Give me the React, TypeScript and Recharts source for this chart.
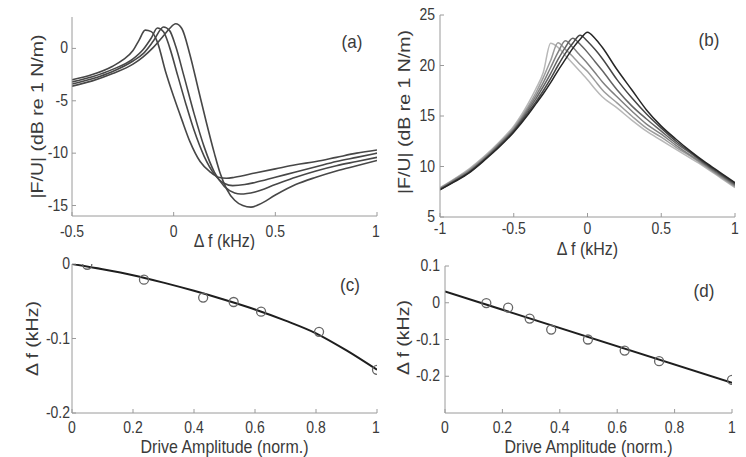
import React from 'react';
import { ComposedChart, Line, XAxis, YAxis, Label } from 'recharts';

const FONT = '"Liberation Sans", Arial, sans-serif';
const BOX = '#9a9a9a';
const INK = '#3a3a3a';

// (a) |F/U| vs detuning, four drive levels (kHz, dB)
const a1x = [-0.5, -0.4, -0.3, -0.25, -0.2, -0.17, -0.14, -0.11, -0.08, -0.04, 0, 0.04, 0.08, 0.13, 0.18, 0.22, 0.26, 0.3, 0.4, 0.5, 0.6, 0.7, 0.8, 0.9, 1];
const a1y = [-3.0, -2.5, -1.7, -1.1, -0.2, 0.8, 1.75, 1.6, 0.6, -2.2, -4.6, -6.8, -8.9, -10.8, -11.8, -12.3, -12.4, -12.3, -11.9, -11.5, -11.1, -10.8, -10.4, -10.0, -9.7];
const a2x = [-0.5, -0.4, -0.3, -0.2, -0.15, -0.11, -0.08, -0.05, -0.02, 0.02, 0.06, 0.1, 0.15, 0.2, 0.25, 0.29, 0.35, 0.4, 0.5, 0.6, 0.7, 0.8, 0.9, 1];
const a2y = [-3.2, -2.7, -2.0, -1.0, -0.1, 1.0, 1.95, 1.6, 0.1, -2.6, -5.3, -7.8, -10.3, -12.0, -12.9, -13.1, -13.0, -12.8, -12.3, -11.8, -11.3, -10.8, -10.4, -10.0];
const a3x = [-0.5, -0.4, -0.3, -0.2, -0.15, -0.1, -0.05, -0.02, 0.01, 0.05, 0.1, 0.15, 0.2, 0.25, 0.3, 0.33, 0.4, 0.5, 0.6, 0.7, 0.8, 0.9, 1];
const a3y = [-3.4, -2.9, -2.2, -1.2, -0.5, 0.7, 2.05, 1.7, 0.2, -2.6, -6.2, -9.4, -11.8, -13.2, -13.8, -13.9, -13.7, -13.0, -12.3, -11.7, -11.2, -10.8, -10.4];
const a4x = [-0.5, -0.4, -0.3, -0.2, -0.15, -0.1, -0.05, -0.02, 0.01, 0.04, 0.08, 0.12, 0.16, 0.2, 0.23, 0.26, 0.3, 0.34, 0.38, 0.42, 0.5, 0.6, 0.7, 0.8, 0.9, 1];
const a4y = [-3.6, -3.1, -2.4, -1.5, -0.8, 0.1, 1.2, 1.9, 2.35, 1.9, -0.6, -3.8, -7.0, -10.0, -12.0, -13.4, -14.5, -15.0, -15.15, -14.9, -14.0, -13.0, -12.3, -11.7, -11.2, -10.7];

// (b) six drive levels on a shared detuning grid
const bX = [-1, -0.9, -0.8, -0.7, -0.6, -0.5, -0.4, -0.35, -0.3, -0.25, -0.2, -0.15, -0.1, -0.05, 0, 0.05, 0.1, 0.2, 0.3, 0.4, 0.5, 0.6, 0.7, 0.8, 0.9, 1];
const b1 = [7.9, 8.8, 9.8, 11.0, 12.4, 14.0, 16.3, 17.7, 19.3, 22.2, 21.8, 21.0, 20.2, 19.4, 18.6, 17.7, 16.9, 15.8, 14.6, 13.5, 12.6, 11.7, 10.8, 9.9, 8.9, 7.9];
const b2 = [7.85, 8.75, 9.7, 10.9, 12.3, 13.85, 16.0, 17.3, 18.8, 20.5, 22.25, 21.6, 20.9, 20.1, 19.4, 18.5, 17.6, 16.3, 15.0, 13.8, 12.9, 11.9, 11.0, 10.0, 9.0, 8.0];
const b3 = [7.8, 8.7, 9.6, 10.8, 12.2, 13.7, 15.8, 17.0, 18.3, 19.8, 21.3, 22.45, 21.8, 21.0, 20.2, 19.3, 18.4, 16.9, 15.5, 14.2, 13.2, 12.1, 11.1, 10.1, 9.1, 8.1];
const b4 = [7.75, 8.6, 9.5, 10.7, 12.1, 13.6, 15.6, 16.7, 17.9, 19.2, 20.6, 21.8, 22.7, 22.1, 21.3, 20.4, 19.5, 17.6, 16.0, 14.7, 13.5, 12.3, 11.3, 10.2, 9.2, 8.2];
const b5 = [7.7, 8.55, 9.45, 10.65, 12.0, 13.5, 15.4, 16.4, 17.5, 18.7, 20.0, 21.2, 22.2, 23.0, 22.4, 21.6, 20.7, 18.6, 16.8, 15.2, 13.8, 12.5, 11.4, 10.3, 9.3, 8.3];
const b6 = [7.7, 8.5, 9.4, 10.6, 11.9, 13.4, 15.2, 16.2, 17.2, 18.3, 19.5, 20.6, 21.7, 22.6, 23.3, 22.7, 21.8, 19.6, 17.6, 15.6, 14.0, 12.7, 11.5, 10.4, 9.4, 8.4];
const bShades = ['#b8b8b8', '#9c9c9c', '#808080', '#646464', '#464646', '#262626'];

// (c) peak shift vs drive amplitude, measured + fit
const cAmp = [0.05, 0.236, 0.43, 0.53, 0.62, 0.81, 1.0];
const cShift = [-0.001, -0.021, -0.045, -0.051, -0.064, -0.091, -0.142];
const cFitX = [0, 0.1, 0.2, 0.3, 0.4, 0.5, 0.6, 0.7, 0.8, 0.9, 1];
const cFitY = [0, -0.007, -0.015, -0.025, -0.036, -0.048, -0.061, -0.076, -0.093, -0.116, -0.142];

// (d) second resonance shift + linear fit
const dAmp = [0.144, 0.22, 0.295, 0.37, 0.498, 0.626, 0.746, 1.0];
const dShift = [-0.001, -0.013, -0.043, -0.073, -0.1, -0.13, -0.159, -0.21];
const dFitX = [0, 1];
const dFitY = [0.031, -0.218];

const pts = (xs: number[], ys: number[]) => xs.map((x, i) => ({ x, y: ys[i] }));
const bData = bX.map((x, i) => ({ x, b1: b1[i], b2: b2[i], b3: b3[i], b4: b4[i], b5: b5[i], b6: b6[i] }));

const fmt = (v: number) => String(Math.round(v * 100) / 100);

const XTick = (p: any) => (
  <g transform={`translate(${p.x},${p.y})`}>
    <text transform="scale(1,1.12)" y={10.5} textAnchor="middle" fill={INK} fontSize={14} fontFamily={FONT}>
      {fmt(p.payload.value)}
    </text>
  </g>
);

const YTick = (p: any) => (
  <g transform={`translate(${p.x},${p.y})`}>
    <text transform="scale(1,1.12)" y={4.5} textAnchor="end" fill={INK} fontSize={14} fontFamily={FONT}>
      {fmt(p.payload.value)}
    </text>
  </g>
);

const xTitle = (text: string, dy: number) => (p: any) => {
  const vb = p.viewBox;
  return (
    <text transform={`translate(${vb.x + vb.width / 2},${vb.y + dy}) scale(1,1.15)`} textAnchor="middle" fill={INK} fontSize={16} fontFamily={FONT}>
      {text}
    </text>
  );
};

const yTitle = (text: string, dx: number, dy: number) => (p: any) => {
  const vb = p.viewBox;
  return (
    <text transform={`translate(${vb.x + dx},${vb.y + vb.height / 2 + dy}) rotate(-90) scale(1.22,1)`} textAnchor="middle" fill={INK} fontSize={16} fontFamily={FONT}>
      {text}
    </text>
  );
};

function Panel(props: any) {
  const { left, top, w, h, margin, yW, xH, xd, xt, yd, yt, xM, yM, xLab, xDy, yLab, yDx, yDy, data, children } = props;
  return (
    <div style={{ position: 'absolute', left, top, width: w, height: h }}>
      <ComposedChart width={w} height={h} data={data} margin={margin}>
        <XAxis type="number" dataKey="x" domain={xd} ticks={xt} height={xH} stroke={BOX}
          tickSize={-4} tickMargin={xM} tick={<XTick />} allowDataOverflow>
          <Label content={xTitle(xLab, xDy)} />
        </XAxis>
        <YAxis type="number" domain={yd} ticks={yt} width={yW} stroke={BOX}
          tickSize={-4} tickMargin={yM} tick={<YTick />} allowDataOverflow>
          <Label content={yTitle(yLab, yDx, yDy)} />
        </YAxis>
        <XAxis xAxisId="top" orientation="top" type="number" domain={xd} ticks={xt} height={0}
          stroke={BOX} tickSize={-4} tick={false} allowDataOverflow />
        <YAxis yAxisId="right" orientation="right" type="number" domain={yd} ticks={yt} width={0}
          stroke={BOX} tickSize={-4} tick={false} allowDataOverflow />
        {children}
      </ComposedChart>
    </div>
  );
}

export default function App() {
  const aCurves = [pts(a1x, a1y), pts(a2x, a2y), pts(a3x, a3y), pts(a4x, a4y)];
  const bKeys = ['b1', 'b2', 'b3', 'b4', 'b5', 'b6'];
  const letters = [
    { t: '(a)', x: 352, y: 48 },
    { t: '(b)', x: 709, y: 46 },
    { t: '(c)', x: 350, y: 291 },
    { t: '(d)', x: 704, y: 297 },
  ];
  return (
    <div style={{ position: 'absolute', left: 0, top: 0, width: 746, height: 457, background: '#fff' }}>
      <Panel left={0} top={0} w={380} h={250} margin={{ top: 17, right: 3, bottom: 0, left: 0 }}
        yW={72} xH={34} xd={[-0.5, 1]} xt={[-0.5, 0, 0.5, 1]} yd={[-16, 3]} yt={[-15, -10, -5, 0]}
        xM={13} yM={8} xLab="Δ f (kHz)" xDy={31} yLab="|F/U| (dB re 1 N/m)" yDx={42.5} yDy={0}>
        {aCurves.map((c, i) => (
          <Line key={i} data={c} dataKey="y" type="monotone" stroke="#474747" strokeWidth={1.6}
            dot={false} isAnimationActive={false} />
        ))}
      </Panel>

      <Panel left={373} top={0} w={373} h={260} margin={{ top: 15, right: 11, bottom: 0, left: 0 }}
        yW={67} xH={43} xd={[-1, 1]} xt={[-1, -0.5, 0, 0.5, 1]} yd={[5, 25]} yt={[5, 10, 15, 20, 25]}
        xM={9} yM={9} xLab="Δ f (kHz)" xDy={38} yLab="|F/U| (dB re 1 N/m)" yDx={37} yDy={-4} data={bData}>
        {bKeys.map((k, i) => (
          <Line key={k} dataKey={k} type="monotone" stroke={bShades[i]} strokeWidth={1.5}
            dot={false} isAnimationActive={false} />
        ))}
      </Panel>

      <Panel left={0} top={250} w={380} h={207} margin={{ top: 14, right: 3, bottom: 0, left: 0 }}
        yW={72} xH={44} xd={[0, 1]} xt={[0, 0.2, 0.4, 0.6, 0.8, 1]} yd={[-0.2, 0]} yt={[-0.2, -0.1, 0]}
        xM={12} yM={6} xLab="Drive Amplitude (norm.)" xDy={40} yLab="Δ f (kHz)" yDx={37.5} yDy={0}>
        <Line data={pts(cFitX, cFitY)} dataKey="y" type="monotone" stroke="#1e1e1e" strokeWidth={2}
          dot={false} isAnimationActive={false} />
        <Line data={pts(cAmp, cShift)} dataKey="y" stroke="none"
          dot={{ r: 4.5, stroke: '#666', strokeWidth: 1.3, fill: 'none' }} isAnimationActive={false} />
      </Panel>

      <Panel left={373} top={250} w={373} h={207} margin={{ top: 16, right: 14, bottom: 0, left: 0 }}
        yW={72} xH={44} xd={[0, 1]} xt={[0, 0.2, 0.4, 0.6, 0.8, 1]} yd={[-0.3, 0.1]} yt={[-0.2, -0.1, 0, 0.1]}
        xM={12} yM={9} xLab="Drive Amplitude (norm.)" xDy={40} yLab="Δ f (kHz)" yDx={35.5} yDy={-2}>
        <Line data={pts(dFitX, dFitY)} dataKey="y" type="linear" stroke="#1e1e1e" strokeWidth={2}
          dot={false} isAnimationActive={false} />
        <Line data={pts(dAmp, dShift)} dataKey="y" stroke="none"
          dot={{ r: 4.5, stroke: '#666', strokeWidth: 1.3, fill: 'none' }} isAnimationActive={false} />
      </Panel>

      <svg width={746} height={457} style={{ position: 'absolute', left: 0, top: 0, pointerEvents: 'none' }}>
        {letters.map((l) => (
          <text key={l.t} transform={`translate(${l.x},${l.y}) scale(1,1.1)`} textAnchor="middle"
            fill={INK} fontSize={17} fontFamily={FONT}>{l.t}</text>
        ))}
      </svg>
    </div>
  );
}
